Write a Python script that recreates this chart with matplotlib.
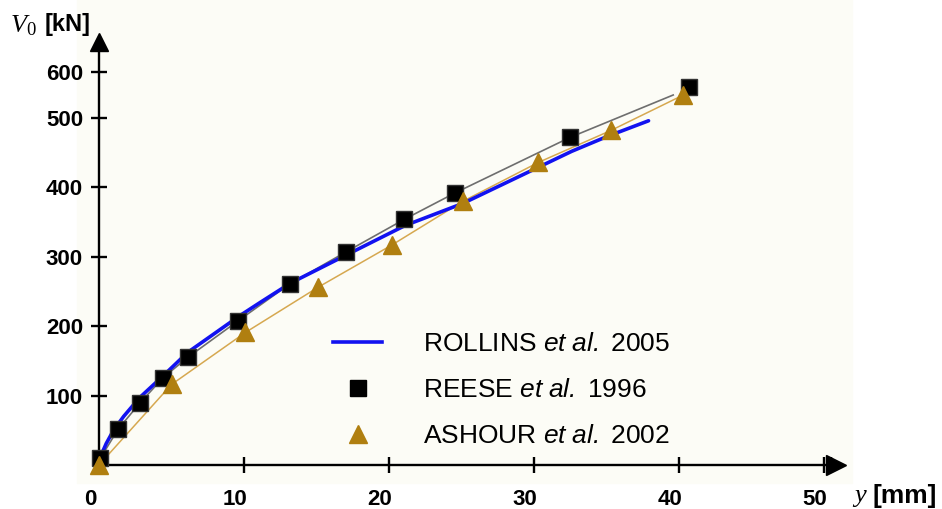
import numpy as np
import matplotlib
matplotlib.use('Agg')
import matplotlib.pyplot as plt
import matplotlib.transforms as mtransforms
from matplotlib.lines import Line2D
from matplotlib.patches import Rectangle

plt.rcParams['font.family'] = ['Liberation Sans', 'DejaVu Sans']
plt.rcParams['mathtext.fontset'] = 'custom'
plt.rcParams['mathtext.rm'] = 'Liberation Serif'
plt.rcParams['mathtext.it'] = 'Liberation Serif:italic'
plt.rcParams['mathtext.sf'] = 'Liberation Sans:italic'
plt.rcParams['mathtext.bf'] = 'Liberation Sans:bold'

# ROLLINS et al. 2005 (continuous curve)
rollins_x = [0, 0.1, 0.5, 1.0, 1.7, 2.8, 4.4, 6.1, 9.7, 11.1, 13.2, 17.0, 21.1, 25.1, 27.7, 30.4, 32.6, 35.0, 37.9]
rollins_y = [0, 12, 31, 50, 70, 97, 128, 162, 215, 234, 262, 302, 345, 377, 403, 430, 452, 473, 496]

# REESE et al. 1996 (squares) and its thin grey line
reese_x = [0.1, 1.33, 2.85, 4.43, 6.12, 9.61, 13.17, 17.03, 21.06, 24.55, 32.48, 40.69]
reese_y = [10, 52, 90, 126, 155, 208, 261, 307, 354, 392, 472, 568]
reese_line_x = reese_x[:-1] + [39.6]
reese_line_y = reese_y[:-1] + [550]

# ASHOUR et al. 2002 (triangles)
ashour_x = [0, 5.0, 10.1, 15.1, 20.2, 25.1, 30.3, 35.3, 40.3]
ashour_y = [0, 116, 191, 256, 317, 380, 436, 482, 550]

x_ticks = [0, 10, 20, 30, 40, 50]
y_ticks = [100, 200, 300, 400, 500, 600]
labels = ['ROLLINS $\\mathsf{et\\ al.}$ 2005',
          'REESE $\\mathsf{et\\ al.}$ 1996',
          'ASHOUR $\\mathsf{et\\ al.}$ 2002']

# the original axis squeezes the last step (500 -> 600)
squeeze = 0.663


def fwd(v):
    v = np.asarray(v, dtype=float)
    return np.where(v <= 500, v, 500 + (v - 500) * squeeze)


def inv(u):
    u = np.asarray(u, dtype=float)
    return np.where(u <= 500, u, 500 + (u - 500) / squeeze)


W, H = 942, 509
fig = plt.figure(figsize=(W / 100, H / 100), dpi=100)
fig.patches.append(Rectangle((77 / W, 1 - 483 / H), (852 - 77) / W, 483 / H,
                             transform=fig.transFigure, color='#fcfcf6', zorder=-10))

x0, y0 = 99, 465
xr, yt = 836, 42
ax = fig.add_axes([x0 / W, 1 - y0 / H, (xr - x0) / W, (y0 - yt) / H])
ax.patch.set_visible(False)
ax.set_yscale('function', functions=(fwd, inv))
ax.set_xlim(0, (xr - x0) / 14.5)
ax.set_ylim(0, inv(((y0 - yt) / 0.694)).item())

ax.plot(reese_line_x, reese_line_y, color='#6e6e6e', lw=1.2, zorder=2)
ax.plot(ashour_x, ashour_y, color='#d6a850', lw=1.1, zorder=2)
ax.plot(rollins_x, rollins_y, color='#1212f0', lw=2.6, zorder=3, solid_capstyle='round')
ax.plot(reese_x, reese_y, 's', color='black', ms=12, mec='#333333', zorder=4, clip_on=False)
ax.plot(ashour_x, ashour_y, '^', color='#b07f10', ms=13, mec='#b07f10', zorder=4, clip_on=False)

for s in ['top', 'right']:
    ax.spines[s].set_visible(False)
for s in ['left', 'bottom']:
    ax.spines[s].set_linewidth(1.7)

ax.set_xticks(x_ticks)
ax.set_yticks(y_ticks)
ax.set_xticks([50.45], minor=True)
ax.tick_params(axis='both', which='both', direction='inout', length=11, width=1.7)
ax.tick_params(axis='x', pad=12)
ax.tick_params(axis='y', pad=6)
ax.set_xticklabels([str(t) for t in x_ticks], fontsize=16, fontweight='bold')
ax.set_yticklabels([str(t) for t in y_ticks], fontsize=16, fontweight='bold')
shift = mtransforms.ScaledTranslation(-9 / 100, 0, fig.dpi_scale_trans)
for lab in ax.get_xticklabels():
    lab.set_transform(lab.get_transform() + shift)

# axis arrows
ax.plot([1], [0], '>', color='black', ms=14, transform=ax.transAxes, clip_on=False)
ax.plot([0], [1], '^', color='black', ms=13, transform=ax.transAxes, clip_on=False)

# axis titles
fig.text(10 / W, 1 - 26 / H, '$V_0$', fontsize=19, ha='left', va='center')
fig.text(45 / W, 1 - 25 / H, '[kN]', fontsize=17, fontweight='bold', ha='left', va='center')
fig.text(852 / W, 1 - 497 / H, '$y$', fontsize=19, ha='left', va='center')
fig.text(873 / W, 1 - 496 / H, '[mm]', fontsize=19, fontweight='bold', ha='left', va='center')

handles = [Line2D([], [], color='#1212f0', lw=2.6),
           Line2D([], [], ls='none', marker='s', color='black', ms=12),
           Line2D([], [], ls='none', marker='^', color='#b07f10', ms=13)]
ax.legend(handles, labels, loc='upper left', bbox_to_anchor=(333 / W, 1 - 332 / H),
          bbox_transform=fig.transFigure, frameon=False, fontsize=19,
          borderpad=0, borderaxespad=0, handlelength=1.86, handletextpad=1.55,
          labelspacing=0.83)

fig.savefig('out.png', dpi=100)
